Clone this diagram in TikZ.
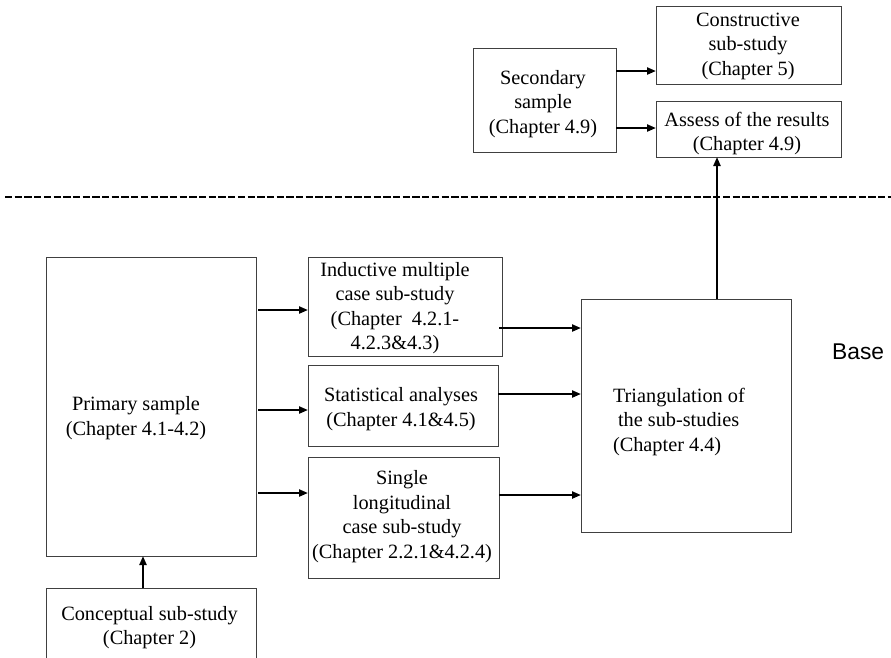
\documentclass[tikz,border=0pt]{standalone}
\usepackage{fontspec}
\setmainfont{Liberation Serif}
\newfontfamily\labelsans{Liberation Sans}
\usetikzlibrary{arrows.meta}

\begin{document}
\begin{tikzpicture}[x=1pt,y=-1pt,
  box/.style={draw=black!75, line width=1pt, rectangle, inner sep=0pt, outer sep=0pt},
  txt/.style={inner sep=0pt, outer sep=0pt, align=center, font=\fontsize{20.3}{24.5}\selectfont},
  arr/.style={line width=2.1pt, -{Triangle[length=9pt,width=7pt]}},
  sepline/.style={line width=1.6pt, dash pattern=on 7.3pt off 2.4pt}]
\useasboundingbox (0,0) rectangle (891,657);

% upper part: secondary sample and its outcomes
\node[box, minimum width=143pt, minimum height=104pt] (secondary) at (544.5,100) {};
\node[box, minimum width=185pt, minimum height=78pt] (constructive) at (748.5,45) {};
\node[box, minimum width=185pt, minimum height=56pt] (assess) at (748.5,129) {};

\node[txt] (t-secondary) at (543,104) {Secondary\\sample\\(Chapter 4.9)};
\node[txt] (t-constructive) at (748,46) {Constructive\\sub-study\\(Chapter 5)};
\node[txt] (t-assess) at (747,133.5) {Assess of the results\\(Chapter 4.9)};

% separator
\coordinate (sepL) at (5,197);
\coordinate (sepR) at (891,197);
\draw[sepline] (sepL) -- (sepR);

% base level
\node[box, minimum width=210pt, minimum height=299pt] (primary) at (151,406.5) {};
\node[box, minimum width=210pt, minimum height=92pt] (conceptual) at (151,634) {};
\node[box, minimum width=194pt, minimum height=99pt] (inductive) at (405,306.5) {};
\node[box, minimum width=190pt, minimum height=81pt] (statistical) at (403,405.5) {};
\node[box, minimum width=191pt, minimum height=121pt] (single) at (403.5,517.5) {};
\node[box, minimum width=210pt, minimum height=233pt] (triang) at (686,415.5) {};

\node[txt] (t-primary) at (136,418) {Primary sample\\(Chapter 4.1-4.2)};
\node[txt] (t-conceptual) at (149.5,627.5) {Conceptual sub-study\\(Chapter 2)};
\node[txt] (t-inductive) at (395,308) {Inductive multiple\\case sub-study\\(Chapter\ \ 4.2.1-\\4.2.3\&4.3)};
\node[txt] (t-statistical) at (401,409) {Statistical analyses\\(Chapter 4.1\&4.5)};
\node[txt] (t-single) at (402,516.5) {Single\\longitudinal\\case sub-study\\(Chapter 2.2.1\&4.2.4)};
\node[txt, align=left, anchor=west] (t-triang) at (613,422) {Triangulation of\\\hspace*{5pt}the sub-studies\\(Chapter 4.4)};

\node[inner sep=0pt, anchor=base west, font=\labelsans\fontsize{22.8}{26}\selectfont] (base) at (832,359) {Base};

% connectors
\draw[arr] (secondary.east |- 0,71) -- (constructive.west |- 0,71);
\draw[arr] (secondary.east |- 0,128) -- (assess.west |- 0,128);

\draw[arr] (conceptual.north -| 143,0) -- (primary.south -| 143,0);

\draw[arr] ([xshift=2pt]primary.east |- 0,310) -- (inductive.west |- 0,310);
\draw[arr] ([xshift=2pt]primary.east |- 0,410) -- (statistical.west |- 0,410);
\draw[arr] ([xshift=2pt]primary.east |- 0,493) -- (single.west |- 0,493);

\draw[arr] ([xshift=-3pt]inductive.east |- 0,328) -- (triang.west |- 0,328);
\draw[arr] (statistical.east |- 0,394) -- (triang.west |- 0,394);
\draw[arr] (single.east |- 0,495) -- (triang.west |- 0,495);

\draw[arr] (triang.north -| 717,0) -- (assess.south -| 717,0);
\end{tikzpicture}
\end{document}
